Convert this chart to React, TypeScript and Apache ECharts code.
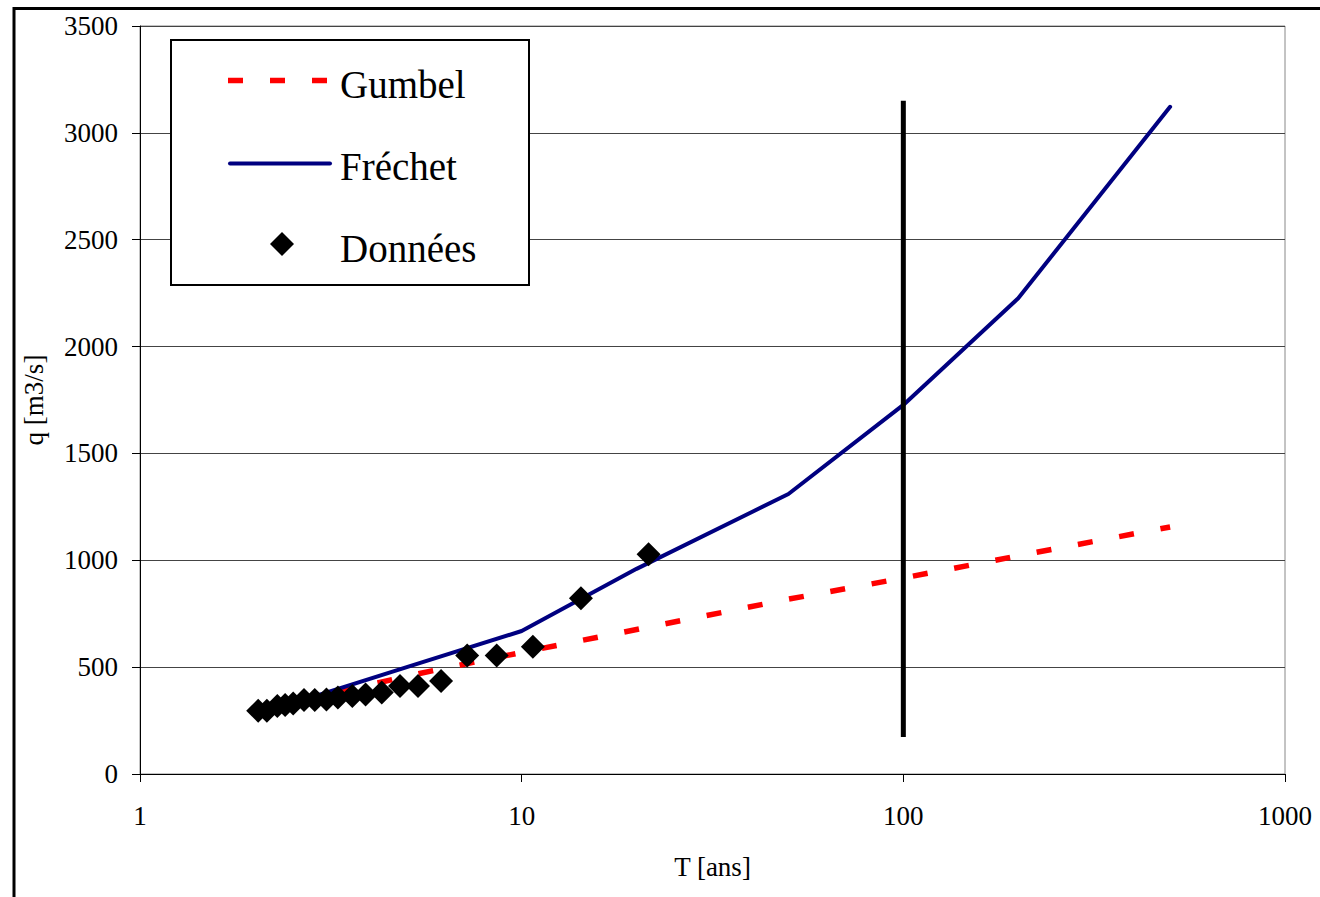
import React, { useEffect, useRef } from 'react';
import * as echarts from 'echarts';

// Return periods (years) at which the fitted laws are evaluated
const returnPeriods = [2, 5, 10, 20, 50, 100, 200, 500];
// Gumbel law discharge (m3/s)
const gumbelValues = [290, 458, 569, 676, 818, 917, 1021, 1156];
// Fréchet law discharge (m3/s)
const frechetValues = [275, 500, 669, 960, 1310, 1727, 2226, 3122];
// Observed data: return period and discharge
const dataT = [21.5, 14.3, 10.7, 8.6, 7.2, 6.15, 5.35, 4.8, 4.3, 3.9, 3.6, 3.3, 3.08, 2.87, 2.69, 2.52, 2.4, 2.29, 2.15, 2.04];
const dataQ = [1028, 822, 596, 554, 554, 435, 412, 412, 381, 372, 365, 358, 349, 346, 346, 330, 323, 318, 296, 296];
// Reference vertical line at T = 100 years
const refLineT = [100, 100];
const refLineQ = [173, 3150];

const legendNames = ['Gumbel', 'Fréchet', 'Données'];
const xAxisName = 'T [ans]';
const yAxisName = 'q [m3/s]';

const FONT = '"Liberation Serif", "Times New Roman", serif';
const RED = '#ff0000';
const NAVY = '#000080';

export default function App() {
  const ref = useRef<HTMLDivElement>(null);

  useEffect(() => {
    if (!ref.current) return;
    const chart = echarts.init(ref.current, null, { renderer: 'svg' });

    // legend drawn with graphic elements (box, icons, texts)
    const legX = 171, legY = 40, legW = 358, legH = 245;
    const iconX0 = 228, iconX1 = 332, textX = 340;
    const rowY = [82, 164, 246];
    const legendGraphic: any[] = [
      {
        type: 'rect',
        z: 5,
        shape: { x: legX, y: legY, width: legW, height: legH },
        style: { fill: '#ffffff', stroke: '#000000', lineWidth: 2 },
      },
      {
        type: 'line',
        z: 6,
        shape: { x1: iconX0, y1: rowY[0] - 1.5, x2: iconX1, y2: rowY[0] - 1.5 },
        style: { stroke: RED, lineWidth: 5.5, lineDash: [15, 27], lineCap: 'butt' },
      },
      {
        type: 'line',
        z: 6,
        shape: { x1: iconX0 + 2, y1: rowY[1] - 0.5, x2: iconX1 - 2, y2: rowY[1] - 0.5 },
        style: { stroke: NAVY, lineWidth: 4, lineCap: 'round' },
      },
      {
        type: 'polygon',
        z: 6,
        shape: {
          points: [
            [282, rowY[2] - 14],
            [294, rowY[2] - 2],
            [282, rowY[2] + 10],
            [270, rowY[2] - 2],
          ],
        },
        style: { fill: '#000000' },
      },
    ];
    legendNames.forEach((name, i) => {
      legendGraphic.push({
        type: 'text',
        z: 6,
        x: textX,
        y: rowY[i] + 2,
        style: {
          text: name,
          fontFamily: FONT,
          fontSize: 39,
          fill: '#000000',
          verticalAlign: 'middle',
          align: 'left',
        },
      });
    });

    const option: any = {
      animation: false,
      backgroundColor: '#ffffff',
      textStyle: { fontFamily: FONT },
      grid: {
        left: 140,
        right: 35,
        top: 26,
        bottom: 123,
        show: true,
        borderColor: '#888888',
        borderWidth: 1,
        backgroundColor: 'transparent',
      },
      xAxis: {
        type: 'log',
        logBase: 10,
        min: 1,
        max: 1000,
        name: xAxisName,
        nameLocation: 'middle',
        nameGap: 79,
        nameTextStyle: { fontFamily: FONT, fontSize: 27, color: '#000000' },
        axisLine: { show: true, lineStyle: { color: '#000000', width: 1 } },
        axisTick: { show: true, inside: false, length: 8, lineStyle: { color: '#000000' } },
        minorTick: { show: false },
        axisLabel: {
          fontFamily: FONT,
          fontSize: 27,
          color: '#000000',
          margin: 28,
          formatter: (v: number) => String(Math.round(v)),
        },
        splitLine: { show: false },
      },
      yAxis: {
        type: 'value',
        min: 0,
        max: 3500,
        interval: 500,
        name: yAxisName,
        nameLocation: 'middle',
        nameGap: 93,
        nameTextStyle: { fontFamily: FONT, fontSize: 27, color: '#000000' },
        axisLine: { show: true, lineStyle: { color: '#000000', width: 1 } },
        axisTick: { show: true, inside: false, length: 8, lineStyle: { color: '#000000' } },
        axisLabel: {
          fontFamily: FONT,
          fontSize: 27,
          color: '#000000',
          margin: 22,
          formatter: (v: number) => String(v),
        },
        splitLine: { show: true, lineStyle: { color: '#444444', width: 1 } },
      },
      graphic: [
        ...legendGraphic,
        {
          type: 'rect',
          z: 10,
          shape: { x: 14, y: 8.5, width: 1400, height: 1000 },
          style: { fill: 'none', stroke: '#000000', lineWidth: 3 },
        },
      ],
      series: [
        {
          name: legendNames[0],
          type: 'line',
          data: returnPeriods.map((t, i) => [t, gumbelValues[i]]),
          symbol: 'none',
          itemStyle: { color: RED },
          lineStyle: { color: RED, width: 5.5, type: [15, 27] },
          z: 2,
        },
        {
          name: legendNames[1],
          type: 'line',
          data: returnPeriods.map((t, i) => [t, frechetValues[i]]),
          symbol: 'none',
          itemStyle: { color: NAVY },
          lineStyle: { color: NAVY, width: 4, cap: 'round', join: 'round' },
          z: 2,
        },
        {
          name: 'T100',
          type: 'line',
          data: refLineT.map((t, i) => [t, refLineQ[i]]),
          symbol: 'none',
          itemStyle: { color: '#000000' },
          lineStyle: { color: '#000000', width: 5 },
          z: 3,
        },
        {
          name: legendNames[2],
          type: 'scatter',
          data: dataT.map((t, i) => [t, dataQ[i]]),
          symbol: 'diamond',
          symbolSize: 24,
          itemStyle: { color: '#000000', opacity: 1 },
          z: 4,
        },
      ],
    };
    chart.setOption(option);
    return () => {
      chart.dispose();
    };
  }, []);

  return (
    <div
      ref={ref}
      style={{ position: 'absolute', left: 0, top: 0, width: 1320, height: 897 }}
    />
  );
}
